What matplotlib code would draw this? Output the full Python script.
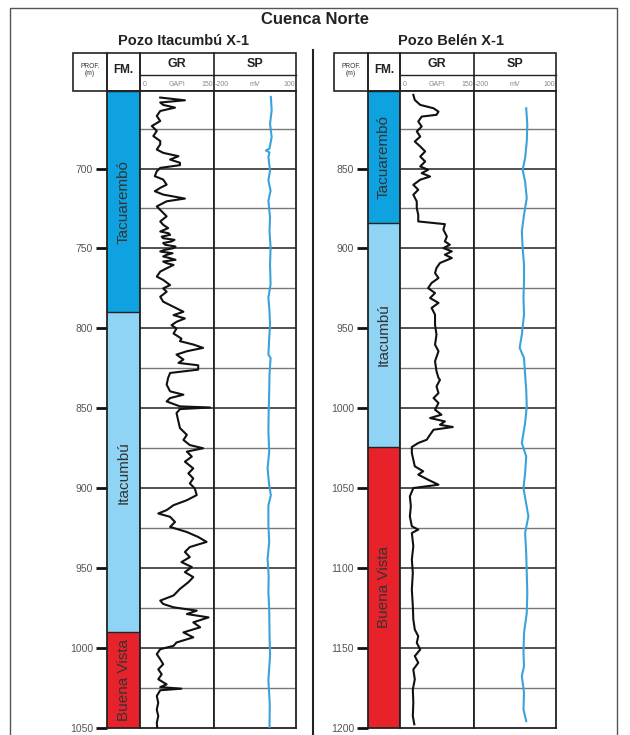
import numpy as np
import matplotlib
matplotlib.use("Agg")
from matplotlib import pyplot as plt

plt.rcParams['font.family'] = ['Liberation Sans', 'DejaVu Sans']

W, H = 630, 735

#------------------------- datos pozo Itacumbu X-1 -------------------------
ita_top, ita_bot = 651.5, 1050
ita_fm_names = ['Tacuarembó', 'Itacumbú', 'Buena Vista']
ita_fm_tops = [651.5, 790, 990]
ita_fm_bases = [790, 990, 1050]

ita_gr_depth = [655.6, 657.3, 658.7, 660.2, 661.9, 664.0, 667.1, 670.3, 673.4, 676.5,
                679.7, 682.8, 684.9, 688.1, 690.2, 692.3, 694.4, 696.4, 697.9, 699.6,
                701.7, 704.8, 706.9, 710.1, 712.1, 714.2, 716.3, 718.8, 720.5, 723.7,
                726.8, 729.9, 733.1, 735.2, 737.3,
                739.4, 740.5, 741.5, 742.6, 743.6, 744.6, 745.6, 746.6, 747.7, 748.8,
                749.8, 750.9, 751.9, 753.0, 754.0, 755.0, 756.1, 757.1, 758.2, 759.3,
                760.3, 762.4, 764.5, 767.6, 769.7,
                772.9, 775.0, 777.1, 780.2, 783.3, 786.5, 789.6, 791.7, 793.8, 795.9,
                798.0, 800.1, 803.2, 806.4, 808.0, 810.1, 812.2, 814.3, 816.4, 819.5,
                821.6, 823.1, 825.8, 827.9, 831.0, 835.2, 839.4, 841.5, 843.6, 845.7,
                848.8, 849.5, 850.5, 853.0, 858.3, 862.4, 866.6, 869.8, 873.0, 875.0,
                877.1, 880.2, 883.4, 887.6, 890.7, 893.9, 897.0, 900.1, 904.3, 907.5,
                910.6, 913.7, 915.8, 917.9, 921.1, 924.2, 927.4, 930.5, 933.6, 936.8,
                939.9, 943.1, 946.2, 949.3, 952.5, 955.6, 958.8, 963.0, 967.1, 970.3,
                972.4, 974.5, 976.6, 978.7, 980.8, 983.9, 987.0, 990.2, 993.3, 996.5,
                998.6, 1000.7, 1003.8, 1007.0, 1010.1, 1013.3, 1016.4, 1019.5, 1022.7, 1024.4,
                1025.4, 1026.4, 1030.0, 1034.2, 1038.4, 1042.6, 1046.8, 1050.0]
ita_gr = [41, 91, 41, 47, 71, 41, 34, 41, 24, 34,
          27, 41, 41, 34, 47, 78, 61, 81, 81, 41,
          34, 30, 47, 54, 41, 30, 47, 91, 54, 34,
          44, 54, 41, 47, 57,
          41, 58, 61, 44, 47, 70, 64, 47, 51, 72,
          68, 50, 41, 66, 54, 47, 61, 72, 47, 55,
          68, 54, 41, 34, 47,
          61, 47, 54, 41, 47, 68, 88, 68, 91, 74,
          64, 74, 68, 84, 81, 108, 128, 95, 74, 88,
          78, 118, 118, 61, 57, 54, 61, 88, 61, 54,
          81, 142, 81, 74, 78, 81, 95, 88, 101, 128,
          95, 105, 91, 108, 98, 108, 101, 111, 115, 95,
          68, 54, 37, 61, 71, 61, 95, 118, 135, 101,
          91, 101, 84, 105, 91, 108, 98, 81, 68, 41,
          47, 68, 115, 95, 139, 108, 122, 88, 108, 74,
          68, 41, 34, 41, 47, 37, 44, 37, 54, 41,
          84, 41, 34, 37, 34, 37, 34, 35]

ita_sp_depth = [655.2, 663.6, 672.0, 680.3, 687.5, 688.7, 689.9, 692.9, 701.3, 707.5,
                713.8, 720.1, 730.6, 739.0, 749.4, 760.0, 772.4, 780.8, 789.2, 797.6,
                806.0, 816.4, 818.5, 829.0, 839.5, 852.0, 864.6, 877.1, 887.6, 898.1,
                904.4, 910.7, 923.2, 933.7, 944.2, 954.6, 965.1, 975.6, 990.0, 1005.0,
                1020.0, 1035.0, 1050.0]
ita_sp = [8, 11, 5, 11, 3, -10, 3, -1, 5, -1,
          7, -1, 5, 3, 7, 5, 7, -1, 3, 5,
          2, -1, 7, 3, 2, 0, -1, 2, -4, 2,
          8, -1, -1, 2, -4, 0, -1, 2, 3, 5,
          -1, 4, 3]

#------------------------- datos pozo Belen X-1 -------------------------
bel_top, bel_bot = 801.5, 1200
bel_fm_names = ['Tacuarembó', 'Itacumbú', 'Buena Vista']
bel_fm_tops = [801.5, 884, 1024]
bel_fm_bases = [884, 1024, 1200]

bel_gr_depth = [803.9, 807.1, 810.2, 812.3, 814.4, 816.4, 817.5, 820.6, 823.7, 826.8,
                830.0, 833.1, 836.2, 839.3, 842.5, 845.6, 848.7, 850.8, 852.9, 855.0,
                857.0, 860.2, 863.3, 866.4, 870.6, 874.8, 878.9, 883.1, 884.8, 888.3,
                892.5, 895.6, 897.7, 899.8, 901.8, 903.9, 906.0, 909.1, 912.2, 915.4,
                918.5, 921.6, 924.8, 927.9, 931.0, 934.1, 937.2, 941.4, 947.7, 953.9,
                960.2, 964.3, 970.6, 976.8, 981.0, 982.2, 986.3, 990.5, 993.6, 996.7,
                1000.9, 1004.0, 1006.1, 1008.2, 1010.3, 1011.7, 1013.4, 1016.5, 1019.7, 1021.7,
                1024.2, 1028.0, 1032.2, 1036.3, 1039.4, 1041.5, 1044.7, 1047.8, 1049.9, 1055.1,
                1061.3, 1067.6, 1073.8, 1075.9, 1078.0, 1086.3, 1094.6, 1103.0, 1113.4, 1123.8,
                1132.1, 1138.4, 1142.6, 1146.7, 1150.9, 1155.0, 1159.2, 1163.4, 1169.6, 1175.9,
                1184.2, 1192.5, 1197.7]
bel_gr = [27, 30, 41, 68, 78, 74, 44, 37, 44, 34,
          41, 30, 41, 51, 41, 51, 41, 57, 44, 61,
          41, 27, 37, 27, 34, 34, 37, 37, 91, 88,
          95, 91, 101, 88, 105, 91, 105, 81, 74, 71,
          78, 64, 57, 71, 61, 78, 64, 71, 71, 74,
          71, 78, 71, 74, 78, 81, 74, 78, 68, 78,
          71, 84, 61, 91, 81, 107, 68, 61, 54, 37,
          24, 24, 27, 30, 47, 37, 57, 78, 27, 20,
          22, 20, 24, 37, 24, 27, 24, 26, 24, 26,
          27, 30, 37, 34, 41, 30, 37, 27, 30, 26,
          27, 26, 29]

bel_sp_depth = [812.3, 822.7, 833.1, 843.5, 850.8, 858.1, 868.5, 878.9, 889.3, 899.8,
                910.2, 920.6, 931.0, 941.4, 953.9, 962.2, 968.5, 978.9, 988.4, 998.8,
                1009.2, 1021.7, 1030.1, 1040.5, 1049.9, 1067.6, 1078.0, 1090.5, 1103.0, 1115.5,
                1128.0, 1140.5, 1153.0, 1161.3, 1167.5, 1178.0, 1188.4, 1195.7]
bel_sp = [-9, -5, -7, -13, -22, -13, -7, -17, -25, -22,
          -17, -17, -19, -17, -25, -33, -17, -13, -9, -7,
          -13, -25, -9, -13, -19, -1, -13, -9, -7, -5,
          -7, -17, -19, -17, -25, -17, -19, -9]

fm_colors = {'Tacuarembó': '#0fa2e0', 'Itacumbú': '#8fd4f4', 'Buena Vista': '#e8222b'}


def box(x0, y0, x1, y1):
    return [x0 / W, 1 - y1 / H, (x1 - x0) / W, (y1 - y0) / H]


fig = plt.figure(figsize=(W / 100, H / 100), dpi=100)
fig.patch.set_facecolor('white')

# fondo en pixeles (marco, titulos, cabeceras)
bg = fig.add_axes([0, 0, 1, 1])
bg.set_xlim(0, W)
bg.set_ylim(H, 0)
bg.axis('off')
bg.plot([10, 10, 617, 617], [H, 8, 8, H], color='#555555', lw=1)
bg.plot([313, 313], [50, H], color='#222222', lw=1.5)
bg.text(315, 19, 'Cuenca Norte', ha='center', va='center', fontsize=12, fontweight='bold', color='#222222')


def header(x, title, xt):
    xp, xf, xg, xs, xe = x
    y0, ym, y1 = 53, 75, 91
    bg.text(xt, 41, title, ha='center', va='center', fontsize=10.5, fontweight='bold', color='#222222')
    for a, b in [(xp, xf), (xf, xg)]:
        bg.add_patch(plt.Rectangle((a, y0), b - a, y1 - y0, fill=False, ec='#222222', lw=1.2))
    bg.add_patch(plt.Rectangle((xg, y0), xe - xg, y1 - y0, fill=False, ec='#222222', lw=1.2))
    bg.plot([xs, xs], [y0, y1], color='#222222', lw=1.2)
    bg.plot([xg, xe], [ym, ym], color='#222222', lw=1.0)
    bg.text((xp + xf) / 2, 66, 'PROF.', ha='center', va='center', fontsize=4.8, color='#333333')
    bg.text((xp + xf) / 2, 73, '(m)', ha='center', va='center', fontsize=4.8, color='#333333')
    bg.text((xf + xg) / 2, 70, 'FM.', ha='center', va='center', fontsize=8.5, fontweight='bold', color='#222222')
    bg.text((xg + xs) / 2, 64, 'GR', ha='center', va='center', fontsize=9, fontweight='bold', color='#222222')
    bg.text((xs + xe) / 2, 64, 'SP', ha='center', va='center', fontsize=9, fontweight='bold', color='#222222')
    gcol = '#888888'
    bg.text(xg + 3, 84, '0', ha='left', va='center', fontsize=5, color=gcol)
    bg.text((xg + xs) / 2, 84.5, 'GAPI', ha='center', va='center', fontsize=5, color=gcol)
    bg.text(xs - 1, 84, '150', ha='right', va='center', fontsize=5, color=gcol)
    bg.text(xs + 1, 84, '-200', ha='left', va='center', fontsize=5, color=gcol)
    bg.text((xs + xe) / 2, 84.5, 'mV', ha='center', va='center', fontsize=5, color=gcol)
    bg.text(xe - 1, 84, '100', ha='right', va='center', fontsize=5, color=gcol)


def well(x, dtop, dbot, names, tops, bases, grd, gr, spd, sp):
    xp, xf, xg, xs, xe = x
    y0, y1 = 91, 728
    axf = fig.add_axes(box(xf, y0, xg, y1))
    axg = fig.add_axes(box(xg, y0, xs, y1))
    axs = fig.add_axes(box(xs, y0, xe, y1))
    for a in (axf, axg, axs):
        a.set_ylim(dbot, dtop)
        for s in a.spines.values():
            s.set_linewidth(1.3)
            s.set_color('#222222')
        a.set_xticks([])
    axf.set_xlim(0, 1)
    for n, t, b in zip(names, tops, bases):
        axf.axhspan(t, b, color=fm_colors[n], lw=0)
        axf.axhline(t, color='#222222', lw=1.0)
        axf.text(0.5, (t + b) / 2, n, rotation=90, ha='center', va='center', fontsize=11, color='#333333')
    ticks = np.arange(np.ceil(dtop / 50) * 50, dbot + 1, 50)
    axf.set_yticks(ticks)
    axf.set_yticklabels(['%d' % t for t in ticks])
    axf.tick_params(axis='y', length=8, width=2, color='#111111', labelsize=7.5, labelcolor='#555555', pad=2)

    grid = np.arange(np.ceil(dtop / 25) * 25, dbot, 25)
    for a in (axg, axs):
        a.set_yticks([])
        for g in grid:
            if g % 50 == 0:
                a.axhline(g, color='#333333', lw=1.2, zorder=1)
            else:
                a.axhline(g, color='#777777', lw=1.0, zorder=1)
    axg.set_xlim(0, 150)
    axs.set_xlim(-200, 100)
    axg.plot(gr, grd, color='#111111', lw=1.5, zorder=3)
    axs.plot(sp, spd, color='#3aa2dc', lw=1.5, zorder=3)


x_ita = [73, 107, 140, 214, 296]
x_bel = [334, 368, 400, 474, 556]
header(x_ita, 'Pozo Itacumbú X-1', 184)
header(x_bel, 'Pozo Belén X-1', 451)
well(x_ita, ita_top, ita_bot, ita_fm_names, ita_fm_tops, ita_fm_bases, ita_gr_depth, ita_gr, ita_sp_depth, ita_sp)
well(x_bel, bel_top, bel_bot, bel_fm_names, bel_fm_tops, bel_fm_bases, bel_gr_depth, bel_gr, bel_sp_depth, bel_sp)

plt.savefig('out.png', dpi=100)
